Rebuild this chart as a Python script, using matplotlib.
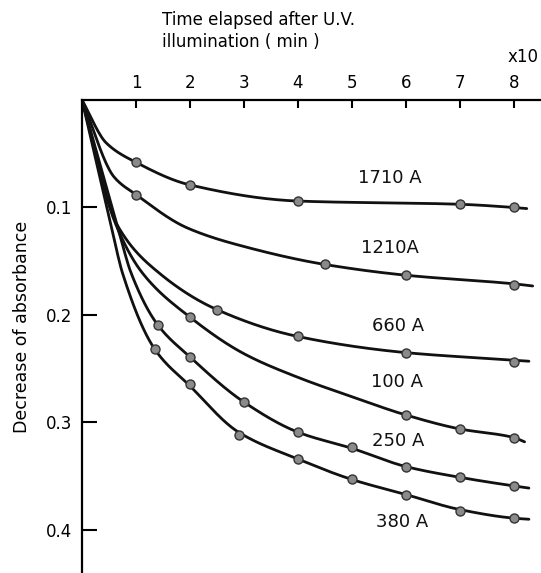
#!/usr/bin/env python3
# -*- coding: utf-8 -*-

import numpy as np
import matplotlib
matplotlib.use('Agg')
import matplotlib.pyplot as plt
from matplotlib import rc

font = {'family': 'DejaVu Sans',
        'size': 12,
        }
rc('font', **font)

# time (x10 min) at the measured points and decrease of absorbance
t_1710 = [1, 2, 4, 7, 8]
a_1710 = [0.058, 0.079, 0.094, 0.097, 0.100]
t_1210 = [1, 4.5, 6, 8]
a_1210 = [0.088, 0.153, 0.163, 0.172]
t_660 = [2.5, 4, 6, 8]
a_660 = [0.195, 0.220, 0.235, 0.244]
t_100 = [2, 6, 7, 8]
a_100 = [0.202, 0.293, 0.306, 0.314]
t_250 = [1.4, 2, 3, 4, 5, 6, 7, 8]
a_250 = [0.209, 0.239, 0.281, 0.309, 0.323, 0.341, 0.351, 0.359]
t_380 = [1.35, 2, 2.9, 4, 5, 6, 7, 8]
a_380 = [0.232, 0.264, 0.312, 0.334, 0.353, 0.367, 0.382, 0.389]

# hand drawn curves (incl. start at the origin)
ct_1710 = [0, 0.45, 1, 2, 4, 7, 8, 8.24]
ca_1710 = [0, 0.040, 0.058, 0.079, 0.094, 0.097, 0.100, 0.101]
ct_1210 = [0, 0.6, 1, 1.95, 3.13, 4.5, 6, 8, 8.35]
ca_1210 = [0, 0.072, 0.088, 0.119, 0.138, 0.153, 0.163, 0.171, 0.173]
ct_660 = [0, 0.66, 1.43, 2.5, 4, 6, 8, 8.28]
ca_660 = [0, 0.117, 0.161, 0.195, 0.220, 0.235, 0.242, 0.243]
ct_100 = [0, 0.62, 1.12, 2, 3, 4, 5, 6, 7, 8, 8.2]
ca_100 = [0, 0.115, 0.161, 0.202, 0.236, 0.258, 0.276, 0.293, 0.306, 0.314, 0.318]
ct_250 = [0, 0.66, 0.91, 1.4, 2, 3, 4, 5, 6, 7, 8, 8.28]
ca_250 = [0, 0.118, 0.161, 0.209, 0.239, 0.281, 0.309, 0.324, 0.341, 0.351, 0.359, 0.361]
ct_380 = [0, 0.54, 0.75, 1.35, 2, 2.9, 4, 5, 6, 7, 8, 8.28]
ca_380 = [0, 0.117, 0.161, 0.232, 0.266, 0.309, 0.334, 0.353, 0.367, 0.381, 0.389, 0.390]

labels = ['1710 A', '1210A', '660 A', '100 A', '250 A', '380 A']
label_t = [5.7, 5.7, 5.85, 5.83, 5.85, 5.94]
label_a = [0.073, 0.138, 0.210, 0.262, 0.317, 0.393]


def smooth(x, y, n=300):
    # monotone cubic (pchip) through the read points, only for drawing
    x = np.asarray(x, float)
    y = np.asarray(y, float)
    h = np.diff(x)
    d = np.diff(y) / h
    m = np.zeros_like(y)
    m[0] = d[0]
    m[-1] = d[-1]
    for k in range(1, len(x) - 1):
        if d[k-1] * d[k] > 0:
            w1 = 2*h[k] + h[k-1]
            w2 = h[k] + 2*h[k-1]
            m[k] = (w1 + w2) / (w1/d[k-1] + w2/d[k])
    xs = np.linspace(x[0], x[-1], n)
    i = np.clip(np.searchsorted(x, xs) - 1, 0, len(x) - 2)
    s = (xs - x[i]) / h[i]
    h00 = 2*s**3 - 3*s**2 + 1
    h10 = s**3 - 2*s**2 + s
    h01 = -2*s**3 + 3*s**2
    h11 = s**3 - s**2
    ys = h00*y[i] + h10*h[i]*m[i] + h01*y[i+1] + h11*h[i]*m[i+1]
    return xs, ys


def absorbance_plot():
    fig = plt.figure(figsize=(5.41, 5.73), dpi=100)
    ax = fig.add_axes([0.1516, 0.0, 0.848, 0.8255])

    curves = [(ct_1710, ca_1710), (ct_1210, ca_1210), (ct_660, ca_660),
              (ct_100, ca_100), (ct_250, ca_250), (ct_380, ca_380)]
    points = [(t_1710, a_1710), (t_1210, a_1210), (t_660, a_660),
              (t_100, a_100), (t_250, a_250), (t_380, a_380)]

    for (ct, ca), (t, a) in zip(curves, points):
        xs, ys = smooth(ct, ca)
        ax.plot(xs, ys, color='#111111', lw=2.0, solid_capstyle='round')
        ax.plot(t, a, 'o', ms=6.5, mfc='#8a8a8a', mec='#333333', mew=1.0)

    for lab, x, y in zip(labels, label_t, label_a):
        ax.text(x, y, lab, ha='center', va='center', fontsize=13,
                color='#111111')

    ax.set_xlim(0, 8.5)
    ax.set_ylim(0.44, 0)

    ax.spines['right'].set_visible(False)
    ax.spines['bottom'].set_visible(False)
    ax.spines['top'].set_linewidth(1.6)
    ax.spines['left'].set_linewidth(1.6)

    ax.xaxis.tick_top()
    ax.set_xticks([1, 2, 3, 4, 5, 6, 7, 8])
    ax.tick_params(axis='x', direction='in', length=6, width=1.5,
                   pad=6, labelsize=12)
    ax.set_yticks([0.1, 0.2, 0.3, 0.4])
    ax.set_yticklabels(['0.1', '0.2', '0.3', '0.4'])
    ax.tick_params(axis='y', direction='in', length=11, width=1.5,
                   pad=7, labelsize=12)

    ax.set_ylabel('Decrease of absorbance', fontsize=12.5)
    ax.yaxis.set_label_coords(-0.112, 0.52)

    fig.text(162/541, 1 - 20/573, 'Time elapsed after U.V.', ha='left',
             va='center', fontsize=12)
    fig.text(162/541, 1 - 42/573, 'illumination ( min )', ha='left',
             va='center', fontsize=12)
    fig.text(539/541, 1 - 57/573, 'x10', ha='right', va='center',
             fontsize=12)

    plt.savefig('out.png', dpi=100)


if __name__ == "__main__":
    absorbance_plot()
